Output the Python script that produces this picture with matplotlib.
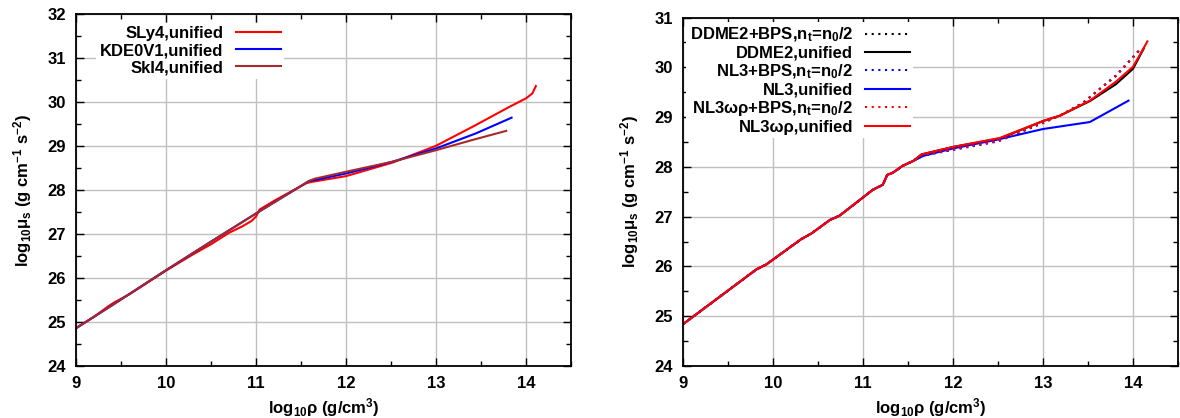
import matplotlib
matplotlib.use("Agg")
import matplotlib.pyplot as plt
from matplotlib.ticker import MultipleLocator

plt.rcParams['font.family'] = 'Liberation Sans'
plt.rcParams['font.weight'] = 'bold'
plt.rcParams['mathtext.fontset'] = 'custom'
plt.rcParams['mathtext.rm'] = 'Liberation Sans:bold'
plt.rcParams['mathtext.it'] = 'Liberation Sans:bold'
plt.rcParams['mathtext.bf'] = 'Liberation Sans:bold'
plt.rcParams['mathtext.sf'] = 'Liberation Sans:bold'

# ---------------- Left panel data (Skyrme, unified) ----------------
sly4_x = [9.0, 9.2, 9.36, 9.42, 9.6, 10.0, 10.3, 10.5, 10.7, 10.85, 10.95, 11.0, 11.04, 11.22, 11.56, 11.62,
          12.0, 12.52, 13.0, 13.44, 13.81, 14.0, 14.07, 14.11]
sly4_y = [24.86, 25.12, 25.36, 25.44, 25.64, 26.17, 26.54, 26.77, 27.03, 27.18, 27.30, 27.40, 27.56, 27.78, 28.16, 28.19,
          28.32, 28.63, 29.01, 29.48, 29.89, 30.09, 30.20, 30.37]

kde_x = [9.0, 9.4, 10.0, 10.5, 11.0, 11.59, 11.65, 12.0, 12.52, 13.0, 13.44, 13.84]
kde_y = [24.86, 25.38, 26.18, 26.83, 27.47, 28.21, 28.23, 28.38, 28.65, 28.95, 29.29, 29.65]

ski4_x = [9.0, 9.4, 10.0, 10.5, 11.0, 11.59, 11.65, 12.0, 12.52, 13.0, 13.4, 13.78]
ski4_y = [24.86, 25.38, 26.18, 26.83, 27.47, 28.21, 28.26, 28.42, 28.65, 28.91, 29.14, 29.35]

left_series = [
    ("SLy4,unified", sly4_x, sly4_y, "#ff0000", "-"),
    ("KDE0V1,unified", kde_x, kde_y, "#0000ff", "-"),
    ("SkI4,unified", ski4_x, ski4_y, "#a52a2a", "-"),
]

# ---------------- Right panel data (RMF) ----------------
crust_x = [9.0, 9.815, 9.926, 10.315, 10.426, 10.63, 10.74, 11.11, 11.22, 11.27, 11.33, 11.44, 11.56]
crust_y = [24.84, 25.94, 26.04, 26.55, 26.66, 26.93, 27.02, 27.54, 27.64, 27.84, 27.88, 28.02, 28.12]

ddme2u_x = crust_x + [11.65, 12.0, 12.52, 13.0, 13.19, 13.52, 13.81, 14.0, 14.12]
ddme2u_y = crust_y + [28.25, 28.40, 28.57, 28.92, 29.03, 29.32, 29.66, 29.97, 30.38]

nl3wru_x = crust_x + [11.65, 12.0, 12.52, 13.0, 13.19, 13.52, 13.81, 14.0, 14.07, 14.16]
nl3wru_y = crust_y + [28.25, 28.40, 28.58, 28.92, 29.03, 29.33, 29.71, 30.01, 30.23, 30.52]

nl3u_x = crust_x + [11.67, 12.0, 12.5, 13.0, 13.52, 13.95]
nl3u_y = crust_y + [28.22, 28.37, 28.55, 28.76, 28.90, 29.33]

bps_x = crust_x + [11.65, 12.0, 12.5, 13.0, 13.2, 13.44, 13.81, 14.09]
ddme2b_y = crust_y + [28.23, 28.35, 28.52, 28.89, 29.04, 29.28, 29.83, 30.38]
nl3b_y = crust_y + [28.22, 28.34, 28.51, 28.88, 29.04, 29.28, 29.83, 30.38]
nl3wrb_y = crust_y + [28.23, 28.35, 28.52, 28.89, 29.04, 29.28, 29.83, 30.38]

dot = (0, (1, 2.2))
right_series = [
    (r"DDME2+BPS,n$_{t}$=n$_{0}$/2", bps_x, ddme2b_y, "#000000", dot),
    ("DDME2,unified", ddme2u_x, ddme2u_y, "#000000", "-"),
    (r"NL3+BPS,n$_{t}$=n$_{0}$/2", bps_x, nl3b_y, "#0000ff", dot),
    ("NL3,unified", nl3u_x, nl3u_y, "#0000ff", "-"),
    (r"NL3ωρ+BPS,n$_{t}$=n$_{0}$/2", bps_x, nl3wrb_y, "#ff0000", dot),
    ("NL3ωρ,unified", nl3wru_x, nl3wru_y, "#ff0000", "-"),
]

fig = plt.figure(figsize=(11.8, 4.18), dpi=100)
axL = fig.add_axes([76/1180, 1-366/418, 495/1180, 351.6/418])
axR = fig.add_axes([683/1180, 1-366/418, 495/1180, 348.5/418])

FS = 12

def style(ax, ymin, ymax):
    ax.set_xlim(9, 14.5)
    ax.set_ylim(ymin, ymax)
    ax.xaxis.set_major_locator(MultipleLocator(1))
    ax.xaxis.set_minor_locator(MultipleLocator(0.5))
    ax.yaxis.set_major_locator(MultipleLocator(1))
    ax.yaxis.set_minor_locator(MultipleLocator(0.5))
    ax.grid(True, which='major', color='#c0c0c0', lw=1.0)
    ax.set_axisbelow(True)
    ax.tick_params(which='both', direction='in', top=True, right=True, labelsize=FS, width=1.0, color='black')
    ax.tick_params(which='major', length=6, pad=7)
    ax.tick_params(which='minor', length=3.5)
    for s in ax.spines.values():
        s.set_linewidth(1.3)
    ax.set_xlabel(r"log$_{10}$ρ (g/cm$^{3}$)", fontsize=FS, fontweight='bold', labelpad=4)
    ax.set_ylabel(r"log$_{10}$μ$_{s}$ (g cm$^{-1}$ s$^{-2}$)", fontsize=FS, fontweight='bold', labelpad=10)

style(axL, 24, 32)
style(axR, 24, 31)

for lab, x, y, c, ls in left_series:
    axL.plot(x, y, color=c, ls=ls, lw=1.5, label=lab)
for lab, x, y, c, ls in right_series:
    axR.plot(x, y, color=c, ls=ls, lw=1.5, label=lab)

legL = axL.legend(loc='upper right', bbox_to_anchor=(0.42, 0.976), markerfirst=False, frameon=True,
                  fancybox=False, edgecolor='none', facecolor='white', framealpha=1.0,
                  fontsize=FS, handlelength=2.7, handletextpad=0.75, labelspacing=0.12,
                  borderpad=0.2, borderaxespad=0)
legR = axR.legend(loc='upper right', bbox_to_anchor=(0.465, 0.986), markerfirst=False, frameon=True,
                  fancybox=False, edgecolor='none', facecolor='white', framealpha=1.0,
                  fontsize=FS, handlelength=2.7, handletextpad=0.7, labelspacing=0.1,
                  borderpad=0.2, borderaxespad=0)

fig.savefig("out.png", dpi=100)
